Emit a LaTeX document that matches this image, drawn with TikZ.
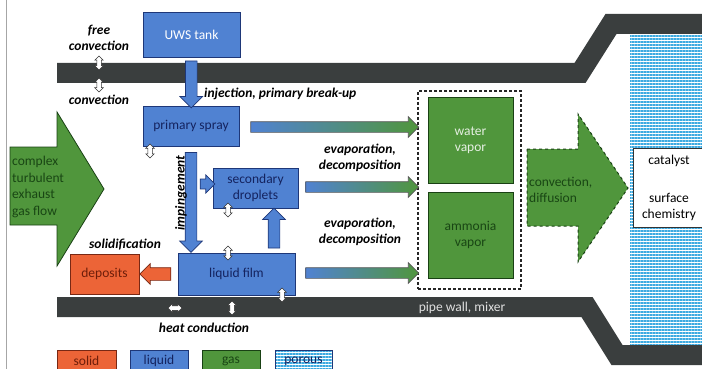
\documentclass[tikz,border=0pt]{standalone}
\usepackage{fontspec}
\setmainfont{Carlito}
\usetikzlibrary{shapes.arrows,calc,patterns.meta,positioning}

\definecolor{liq}{RGB}{80,130,210}
\definecolor{liqline}{RGB}{30,55,120}
\definecolor{liqtext}{RGB}{20,35,95}
\definecolor{gas}{RGB}{80,150,60}
\definecolor{gasline}{RGB}{25,65,20}
\definecolor{gastext}{RGB}{25,70,20}
\definecolor{sol}{RGB}{236,100,55}
\definecolor{solline}{RGB}{120,40,20}
\definecolor{soltext}{RGB}{110,30,10}
\definecolor{wallgray}{RGB}{58,62,62}
\definecolor{pore}{RGB}{60,170,225}

\begin{document}
\begin{tikzpicture}[x=1pt, y=-1pt,
font=\fontsize{13.5}{16}\selectfont,
liquidbox/.style={draw=liqline, fill=liq, text=liqtext, line width=0.9pt, inner sep=0pt, align=center},
gasbox/.style={draw=gasline, fill=gas, text=gastext, line width=0.9pt, inner sep=0pt, align=center},
solidbox/.style={draw=solline, fill=sol, text=soltext, line width=0.9pt, inner sep=0pt, align=center},
porebox/.style={draw=liqline, pattern={Lines[distance=3pt,line width=1.8pt]}, pattern color=pore, text=liqtext, line width=0.9pt, inner sep=0pt},
fat/.style={single arrow, draw=liqline, fill=liq, line width=0.7pt, inner sep=5.5pt,
    minimum width=22pt, single arrow head extend=5.5pt, single arrow tip angle=90},
grad/.style={single arrow, draw=black!65, left color=liq, right color=gas, line width=0.7pt, inner sep=5pt,
    minimum width=20pt, single arrow head extend=5pt, single arrow tip angle=90},
dbl/.style={double arrow, draw=black!80, fill=white, line width=0.5pt, inner sep=2pt,
    minimum width=8pt, minimum height=14pt, double arrow head extend=2pt, double arrow tip angle=90, shape border rotate=90},
lbl/.style={font=\fontsize{13.5}{16}\selectfont\bfseries\itshape, align=center, inner sep=0pt},
wall/.style={draw=wallgray, line width=20pt},
]
\useasboundingbox (0,0) rectangle (702,369);
\clip (0,0) rectangle (702,369);

% frame edge
\draw[black!35, line width=0.6pt] (6,0) -- (6,369);

% catalyst, pipe walls
\path[pattern={Lines[distance=3pt,line width=1.8pt]}, pattern color=pore] (630,24) rectangle (702,355);
\draw[wall] (57,73) -- (580,73) -- (611,24) -- (702,24);
\draw[wall] (57,307) -- (587,307) -- (617,355) -- (702,355);
\node[text=black!12] (mixer) at (462,308) {pipe wall, mixer};
\node[draw=black!80, fill=white, line width=0.8pt, minimum width=72pt, minimum height=79pt, align=center, inner sep=0pt] (cat) at (669,187.5) {catalyst\\[22pt]surface\\chemistry};

% exhaust gas
\draw[gasline, fill=gas, line width=0.8pt] (10,147) -- (57,147) -- (57,112) -- (104,189) -- (57,266) -- (57,225) -- (10,225) -- cycle;
\node[text=gastext, align=left, anchor=west, inner sep=0pt, font=\fontsize{13.5}{16.7}\selectfont] (flow) at (12,187) {complex\\turbulent\\exhaust\\gas flow};

% boxes
\node[liquidbox, text=white, minimum width=97pt, minimum height=45pt] (uws) at (191.5,34.5) {UWS tank};
\node[liquidbox, minimum width=96pt, minimum height=40pt] (spray) at (191,126) {primary spray};
\node[liquidbox, minimum width=85pt, minimum height=40pt] (drops) at (255.5,188) {secondary\\droplets};
\node[liquidbox, minimum width=117pt, minimum height=42pt] (film) at (236.5,274) {liquid film};
\node[solidbox, minimum width=69pt, minimum height=40pt] (deposits) at (104.5,274) {deposits};
\node[draw=black!85, dash pattern=on 3pt off 2pt, line width=1.3pt, minimum width=103pt, minimum height=198pt] (vapors) at (469.5,190) {};
\node[gasbox, text=white!85!gas, minimum width=85pt, minimum height=86pt] (water) at (470.5,140) {water\\vapor};
\node[gasbox, minimum width=85pt, minimum height=86pt] (ammonia) at (470.5,235) {ammonia\\vapor};

% block arrows
\node[fat, shape border rotate=270, minimum height=47pt] (inj) at ($(uws.south)!0.5!(spray.north)$) {};
\node[fat, shape border rotate=270, minimum height=100pt] (imp) at ($(spray.south)!0.5!(spray.south |- film.north)$) {};
\node[fat, minimum height=13pt, minimum width=18pt, inner sep=4.5pt, single arrow head extend=4pt] (side) at (205,184) {};
\node[fat, shape border rotate=90, minimum height=40pt] (up) at (274,231) {};
\node[single arrow, draw=solline, fill=sol, line width=0.7pt, inner sep=6pt, minimum width=20pt,
    single arrow head extend=4pt, single arrow tip angle=90, shape border rotate=180, minimum height=31pt]
    (solid) at ($(deposits.east)!0.5!(film.west)$) {};
\node[grad, minimum height=168pt] (ev1) at (332,127) {};
\node[grad, minimum height=113pt] (ev2) at (359.5,187) {};
\node[grad, minimum height=113pt] (ev3) at (359.5,273) {};
\draw[gasline, fill=gas, dashed, line width=1pt] (527,149) -- (578,149) -- (578,114) -- (628,188) -- (578,262) -- (578,226) -- (527,226) -- cycle;
\node[text=gastext, align=left, anchor=west, inner sep=0pt] (convdiff) at (529,190) {convection,\\diffusion};

% small double arrows
\node[dbl] (fc1) at (99,63) {};
\node[dbl] (fc2) at (99,85) {};
\node[dbl] (d1) at (150,151) {};
\node[dbl] (d2) at (228,210) {};
\node[dbl] (d3) at (228,253) {};
\node[dbl] (d4) at (282,295) {};
\node[dbl, shape border rotate=0] (hc1) at (175,308) {};
\node[dbl] (hc2) at (232,308) {};

% labels
\node[lbl] (freelbl) at (99,38) {free\\convection};
\node[lbl] (convlbl) at (99,100) {convection};
\node[lbl, anchor=west] (injlbl) at (204,94) {injection, primary break-up};
\node[lbl, rotate=90] (implbl) at (181,193) {impingement};
\node[lbl] (ev1lbl) at (360,158) {evaporation,\\decomposition};
\node[lbl] (ev2lbl) at (360,232) {evaporation,\\decomposition};
\node[lbl] (sollbl) at (125,245) {solidification};
\node[lbl] (heatlbl) at (204,328) {heat conduction};

% legend
\node[solidbox, minimum width=59pt, minimum height=22pt] (legsolid) at (86.5,361) {solid};
\node[liquidbox, minimum width=58pt, minimum height=22pt] (legliquid) at (159,361) {liquid};
\node[gasbox, minimum width=58pt, minimum height=22pt] (leggas) at (231,361) {gas};
\node[porebox, minimum width=57pt, minimum height=22pt] (legporous) at (303.5,361) {porous};
\end{tikzpicture}
\end{document}
